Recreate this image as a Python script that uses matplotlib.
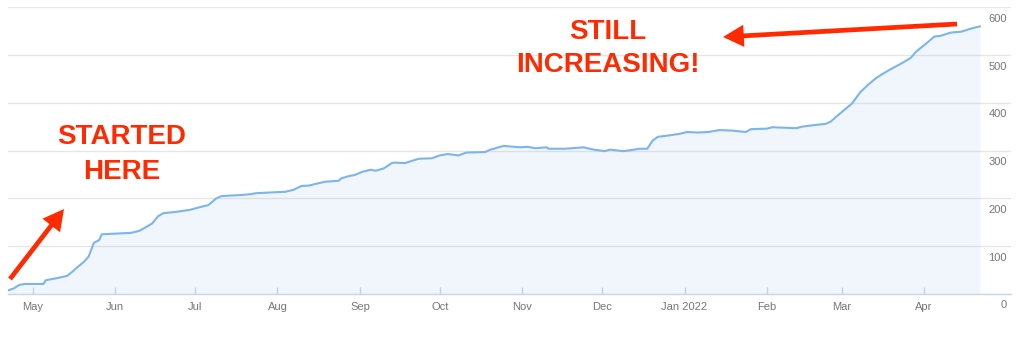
import numpy as np
import matplotlib
matplotlib.use("Agg")
import matplotlib.pyplot as plt
import matplotlib.dates as mdates
from matplotlib.transforms import offset_copy
from matplotlib.patches import FancyArrowPatch

# cumulative count
dates = [
    "2021-04-22", "2021-04-24", "2021-04-26", "2021-04-28", "2021-05-05", "2021-05-06",
    "2021-05-10", "2021-05-14", "2021-05-16", "2021-05-18", "2021-05-20", "2021-05-22",
    "2021-05-24", "2021-05-26", "2021-05-27", "2021-05-31", "2021-06-07", "2021-06-10",
    "2021-06-12", "2021-06-15", "2021-06-17", "2021-06-19", "2021-06-24", "2021-06-29",
    "2021-07-03", "2021-07-06", "2021-07-09", "2021-07-11", "2021-07-18", "2021-07-22",
    "2021-07-24", "2021-08-04", "2021-08-07", "2021-08-10", "2021-08-13", "2021-08-15",
    "2021-08-19", "2021-08-24", "2021-08-25", "2021-08-28", "2021-08-30", "2021-09-02",
    "2021-09-05", "2021-09-07", "2021-09-10", "2021-09-13", "2021-09-14", "2021-09-18",
    "2021-09-23", "2021-09-28", "2021-10-01", "2021-10-04", "2021-10-08", "2021-10-11",
    "2021-10-18", "2021-10-20", "2021-10-25", "2021-10-31", "2021-11-03", "2021-11-06",
    "2021-11-10", "2021-11-11", "2021-11-17", "2021-11-22", "2021-11-24", "2021-11-28",
    "2021-12-02", "2021-12-04", "2021-12-09", "2021-12-13", "2021-12-15", "2021-12-18",
    "2021-12-20", "2021-12-22", "2021-12-25", "2021-12-30", "2022-01-02", "2022-01-06",
    "2022-01-10", "2022-01-14", "2022-01-19", "2022-01-24", "2022-01-26", "2022-02-01",
    "2022-02-03", "2022-02-12", "2022-02-14", "2022-02-18", "2022-02-23", "2022-02-25",
    "2022-02-27", "2022-03-02", "2022-03-05", "2022-03-08", "2022-03-11", "2022-03-14",
    "2022-03-16", "2022-03-19", "2022-03-22", "2022-03-24", "2022-03-27", "2022-03-29",
    "2022-04-02", "2022-04-05", "2022-04-07", "2022-04-11", "2022-04-15", "2022-04-19",
    "2022-04-22",
]
values = [
    8, 12, 19, 21, 21, 29,
    33, 38, 47, 57, 66, 78,
    107, 113, 125, 126, 128, 132,
    138, 148, 162, 169, 172, 176,
    182, 186, 200, 205, 207, 209,
    211, 214, 218, 226, 227, 230,
    235, 237, 242, 247, 249, 256,
    260, 258, 263, 274, 275, 274,
    283, 284, 290, 293, 290, 296,
    297, 302, 310, 307, 308, 305,
    307, 304, 304, 306, 307, 302,
    299, 302, 299, 302, 304, 304,
    321, 329, 331, 335, 339, 338,
    339, 343, 342, 339, 345, 346,
    349, 347, 350, 353, 356, 361,
    371, 385, 399, 422, 438, 452,
    459, 469, 478, 484, 494, 507,
    525, 539, 540, 547, 549, 556,
    560,
]

month_ticks = ["2021-05-01", "2021-06-01", "2021-07-01", "2021-08-01", "2021-09-01",
               "2021-10-01", "2021-11-01", "2021-12-01", "2022-01-01", "2022-02-01",
               "2022-03-01", "2022-04-01"]
month_labels = ["May", "Jun", "Jul", "Aug", "Sep", "Oct", "Nov", "Dec",
                "Jan 2022", "Feb", "Mar", "Apr"]
y_ticks = [0, 100, 200, 300, 400, 500, 600]

LINE = "#7cb5ec"
RED = "#ff2a00"
TXT = "#777777"

plt.rcParams["font.family"] = ["Liberation Sans", "DejaVu Sans"]

x = mdates.date2num(np.array(dates, dtype="datetime64[D]"))
y = np.array(values)

fig = plt.figure(figsize=(10.24, 3.41), dpi=100)
ax = fig.add_axes([8 / 1024, 47 / 341, (1011 - 8) / 1024, (294 - 7.3) / 341])

ax.fill_between(x, 0, y, color=LINE, alpha=0.11, lw=0)
ax.plot(x, y, color=LINE, lw=1.5)

may1 = mdates.date2num(np.datetime64("2021-05-01"))
ax.set_xlim(may1 - 9.27, may1 + 367.7)
ax.set_ylim(0, 600)

ax.set_xticks(mdates.date2num(np.array(month_ticks, dtype="datetime64[D]")))
ax.set_xticklabels(month_labels)
ax.tick_params(axis="x", direction="in", length=5, width=1, color="#ccd6eb",
               labelsize=8, labelcolor=TXT, pad=6)

ax.set_yticks(y_ticks)
ax.set_yticklabels([])
ax.tick_params(axis="y", length=0)
ax.grid(axis="y", color="#e6e6e6", lw=1)
ax.set_axisbelow(True)

for s in ["top", "left", "right"]:
    ax.spines[s].set_visible(False)
ax.spines["bottom"].set_color("#ccd6eb")
ax.spines["bottom"].set_linewidth(1)
ax.spines["bottom"].set_zorder(5)

tr = offset_copy(ax.get_yaxis_transform(), fig=fig, x=-4, y=-11.5, units="dots")
for v in y_ticks:
    ax.text(1.0, v, str(v), transform=tr, ha="right", va="center",
            fontsize=8, color=TXT)

# annotations
fig.text(122 / 1024, 1 - 137 / 341, "STARTED", color=RED, fontsize=20,
         fontweight="bold", ha="center", va="center")
fig.text(122 / 1024, 1 - 172 / 341, "HERE", color=RED, fontsize=20,
         fontweight="bold", ha="center", va="center")
fig.text(608 / 1024, 1 - 32 / 341, "STILL", color=RED, fontsize=20,
         fontweight="bold", ha="center", va="center")
fig.text(608 / 1024, 1 - 65 / 341, "INCREASING!", color=RED, fontsize=20,
         fontweight="bold", ha="center", va="center")

arrow_style = "simple,head_length=15,head_width=16,tail_width=3.4"
for tail, tip in [((10, 279), (64, 209)), ((957, 24), (723, 37))]:
    arr = FancyArrowPatch((tail[0], 341 - tail[1]), (tip[0], 341 - tip[1]),
                          arrowstyle=arrow_style, mutation_scale=1,
                          color=RED, lw=0, shrinkA=0, shrinkB=0,
                          transform=None, zorder=10)
    fig.patches.append(arr)

fig.savefig("out.png", dpi=100)
